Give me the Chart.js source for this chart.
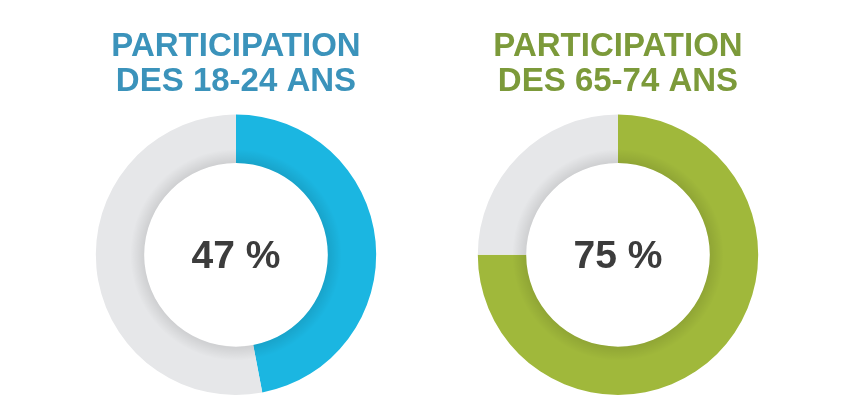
<!DOCTYPE html>
<html lang="fr">
<head>
<meta charset="utf-8">
<title>Participation par âge</title>
<script src="https://cdn.jsdelivr.net/npm/chart.js@4.4.1/dist/chart.umd.min.js"></script>
<style>
  html, body { margin: 0; padding: 0; background: #ffffff; }
  body { width: 855px; height: 420px; position: relative; overflow: hidden; }
  .box { position: absolute; top: 0; width: 382px; height: 420px; }
  #left { left: 45px; }
  #right { left: 427px; }
</style>
</head>
<body>
<div class="box" id="left"><canvas id="chartYoung"></canvas></div>
<div class="box" id="right"><canvas id="chartSenior"></canvas></div>

<script>
// données
const segments = ['Participation', 'Abstention'];
const youngValues = [47, 53];
const seniorValues = [75, 25];
const youngTitle = ['PARTICIPATION', 'DES 18-24 ANS'];
const seniorTitle = ['PARTICIPATION', 'DES 65-74 ANS'];

// texte au centre + petite ombre intérieure
const centerPlugin = {
  id: 'centerText',
  afterDatasetsDraw(chart) {
    const meta = chart.getDatasetMeta(0);
    const arc = meta.data[0];
    if (!arc) return;
    const { x, y, innerRadius } = arc.getProps(['x', 'y', 'innerRadius'], true);
    const ctx = chart.ctx;

    // ombre douce sur le bord intérieur de l'anneau
    const g = ctx.createRadialGradient(x, y, innerRadius, x, y, innerRadius + 14);
    g.addColorStop(0, 'rgba(0,0,0,0.10)');
    g.addColorStop(1, 'rgba(0,0,0,0)');
    ctx.save();
    ctx.beginPath();
    ctx.arc(x, y, innerRadius + 14, 0, Math.PI * 2);
    ctx.arc(x, y, innerRadius, 0, Math.PI * 2, true);
    ctx.fillStyle = g;
    ctx.fill();

    const value = chart.data.datasets[0].data[0];
    ctx.fillStyle = '#3c3c3c';
    ctx.font = 'bold 39px "Liberation Sans", Arial, sans-serif';
    ctx.textAlign = 'center';
    ctx.textBaseline = 'middle';
    ctx.fillText(value + ' %', x, y + 2);
    ctx.restore();
  }
};

function makeDonut(id, values, title, mainColor, titleColor) {
  const ctx = document.getElementById(id).getContext('2d');
  return new Chart(ctx, {
    type: 'doughnut',
    data: {
      labels: segments,
      datasets: [{
        data: values,
        backgroundColor: [mainColor, '#e6e7e9'],
        borderWidth: 0
      }]
    },
    options: {
      responsive: true,
      maintainAspectRatio: false,
      animation: false,
      cutout: '65.5%',
      layout: { padding: { bottom: 25 } },
      plugins: {
        legend: { display: false },
        tooltip: { enabled: false },
        title: {
          display: true,
          text: title,
          color: titleColor,
          font: { family: '"Liberation Sans", Arial, sans-serif', size: 33, weight: 'bold', lineHeight: 1.07 },
          padding: { top: 29, bottom: 15 }
        }
      }
    },
    plugins: [centerPlugin]
  });
}

makeDonut('chartYoung', youngValues, youngTitle, '#1bb6e1', '#3b93bb');
makeDonut('chartSenior', seniorValues, seniorTitle, '#a0b83b', '#7c9a3a');
</script>
</body>
</html>
